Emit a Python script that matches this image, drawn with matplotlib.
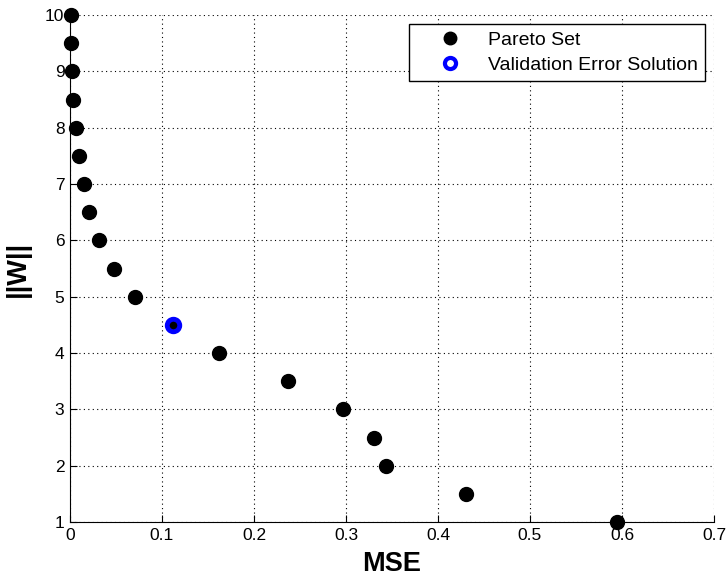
import matplotlib
matplotlib.use("Agg")
import matplotlib.pyplot as plt
from matplotlib.lines import Line2D

plt.rcParams['font.family'] = ['Liberation Sans', 'DejaVu Sans']

mse = [0.001, 0.001, 0.002, 0.003, 0.006, 0.010, 0.015, 0.021, 0.031, 0.048,
       0.071, 0.112, 0.162, 0.237, 0.297, 0.330, 0.343, 0.430, 0.595]
wnorm = [10, 9.5, 9, 8.5, 8, 7.5, 7, 6.5, 6, 5.5, 5, 4.5, 4, 3.5, 3, 2.5, 2, 1.5, 1]
val_mse = [0.112]
val_w = [4.5]
xticks = [0, 0.1, 0.2, 0.3, 0.4, 0.5, 0.6, 0.7]
xticklabels = ['0', '0.1', '0.2', '0.3', '0.4', '0.5', '0.6', '0.7']
yticks = [1, 2, 3, 4, 5, 6, 7, 8, 9, 10]

fig = plt.figure(figsize=(7.28, 5.82), dpi=100)
ax = fig.add_axes([70/728, 60/582, 644/728, 507/582])

ax.plot(mse, wnorm, 'o', color='black', markersize=10, linestyle='none',
        clip_on=False, zorder=3, label='Pareto Set')
ax.plot(val_mse, val_w, 'o', markerfacecolor='none', markeredgecolor='#0000ff',
        markersize=9, markeredgewidth=3.5, linestyle='none', clip_on=False,
        zorder=4, label='Validation Error Solution')

ax.set_xlim(0, 0.7)
ax.set_ylim(1, 10)
ax.set_xticks(xticks)
ax.set_xticklabels(xticklabels)
ax.set_yticks(yticks)
ax.grid(True, color='black', linestyle=(0, (1, 3)), linewidth=0.8)
ax.set_axisbelow(True)
for s in ['top', 'right']:
    ax.spines[s].set_visible(False)
ax.tick_params(direction='in', length=5, labelsize=12.5, pad=4)
ax.set_xlabel('MSE', fontsize=19.5, fontweight='bold', labelpad=6)
ax.set_ylabel('||W||', fontsize=19.5, fontweight='bold', labelpad=10)

handles = [
    Line2D([], [], marker='o', color='black', linestyle='none', markersize=9),
    Line2D([], [], marker='o', markerfacecolor='none', markeredgecolor='#0000ff',
           markeredgewidth=3, markersize=8, linestyle='none'),
]
leg = ax.legend(handles, ['Pareto Set', 'Validation Error Solution'],
                loc='upper right', bbox_to_anchor=(0.986, 0.982),
                fancybox=False, framealpha=1, edgecolor='black', fontsize=14,
                borderaxespad=0, handletextpad=0.15, borderpad=0.35,
                labelspacing=0.4, handlelength=3.6)
leg.get_frame().set_linewidth(1.0)

fig.savefig('out.png', dpi=100)
